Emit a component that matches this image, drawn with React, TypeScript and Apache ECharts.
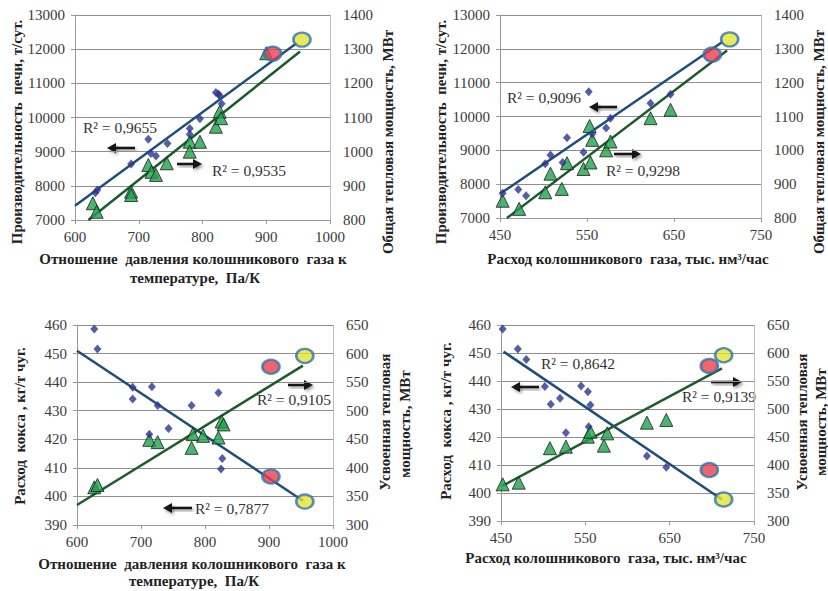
import React, { useEffect, useRef } from "react";
import * as echarts from "echarts";

// ---- Data ----
// Panel 1: x = отношение давления к температуре (Па/К)
const p1Prod = [[632, 7800], [635, 7880], [688, 8640], [715, 9360], [719, 8950], [727, 8870], [745, 9240], [780, 9680], [780, 9510], [796, 9960], [821, 10730], [825, 10690], [827, 10640], [830, 10400]];
const p1Heat = [[628, 849], [634, 824], [688, 883], [688, 873], [715, 961], [720, 941], [727, 932], [744, 966], [780, 1029], [780, 1000], [796, 1029], [821, 1073], [827, 1117], [829, 1098], [900, 1288]];
const p1Red = [[910, 11870]];
const p1Yellow = [[956, 12280]];
const p1TrendProd = [[600, 7420], [948, 12180]];
const p1TrendHeat = [[621, 800], [953, 1293]];

// Panel 2: x = расход колошникового газа
const p2Prod = [[453, 7730], [471, 7840], [480, 7660], [502, 8600], [508, 8860], [522, 8640], [527, 9370], [546, 8940], [552, 10730], [556, 9480], [572, 9660], [577, 9950], [623, 10390], [646, 10660]];
const p2Heat = [[453, 851], [472, 827], [502, 876], [508, 931], [521, 886], [527, 962], [546, 945], [553, 1072], [556, 1031], [554, 964], [572, 1000], [577, 1026], [623, 1095], [646, 1120]];
const p2Red = [[694, 11830]];
const p2Yellow = [[714, 12280]];
const p2TrendProd = [[451, 7730], [706, 12210]];
const p2TrendHeat = [[458, 800], [711, 1295]];

// Panel 3: x = отношение давления к температуре; left = расход кокса, right = усвоенная мощность
const p3Coke = [[627, 458.6], [632, 451.6], [687, 438.2], [687, 434.1], [717, 438.4], [726, 431.8], [743, 423.8], [713, 421.8], [779, 431.8], [821, 436.3], [827, 413.3], [825, 409.6]];
const p3Heat = [[627, 366], [632, 370], [713, 449], [726, 445], [781, 459], [779, 435], [797, 456], [821, 453], [826, 481], [829, 476]];
const p3RedCoke = [[903, 407]];
const p3RedHeat = [[903, 577]];
const p3YellowCoke = [[956, 398.2]];
const p3YellowHeat = [[956, 596]];
const p3TrendCoke = [[600, 451], [953, 398.5]];
const p3TrendHeat = [[600, 335], [953, 579]];

// Panel 4: x = расход колошникового газа
const p4Coke = [[452, 458.6], [470, 451.4], [480, 447.7], [502, 438], [509, 431.7], [520, 433.8], [527, 421.5], [545, 438.2], [553, 436.2], [556, 431.4], [554, 423.7], [623, 413.2], [646, 409.2]];
const p4Heat = [[452, 365.5], [471, 368.5], [508, 430], [527, 432.7], [553, 450.6], [556, 459.5], [572, 434.5], [576, 456.5], [623, 475.6], [646, 480.4]];
const p4RedCoke = [[697, 408.2]];
const p4RedHeat = [[697, 577]];
const p4YellowCoke = [[714, 397.7]];
const p4YellowHeat = [[714, 596]];
const p4TrendCoke = [[453, 450.5], [712, 397.7]];
const p4TrendHeat = [[452, 363], [712, 572.6]];

const xRanges = [[600, 1000, 100], [450, 750, 100], [600, 1000, 100], [450, 750, 100]];
const yLeftRanges = [[7000, 13000, 1000], [7000, 13000, 1000], [390, 460, 10], [390, 460, 10]];
const yRightRanges = [[800, 1400, 100], [800, 1400, 100], [300, 650, 50], [300, 650, 50]];

const r2Labels = ["R² = 0,9655", "R² = 0,9535", "R² = 0,9096", "R² = 0,9298", "R² = 0,9105", "R² = 0,7877", "R² = 0,8642", "R² = 0,9139"];

const FONT = "'Liberation Serif', 'Times New Roman', serif";
const BLUE_LINE = "#1f4e79";
const GREEN_LINE = "#1d5a2e";
const DIAMOND = "#2b3590";
const TRI = "#1ea24c";

export default function App() {
  const ref = useRef<HTMLDivElement>(null);
  useEffect(() => {
    const chart = echarts.init(ref.current!, null, { renderer: "svg" });
    const grids = [
      { left: 75, top: 15, width: 255, height: 205 },
      { left: 500, top: 15, width: 261, height: 203 },
      { left: 77, top: 325, width: 256, height: 200 },
      { left: 501, top: 325, width: 253, height: 196 },
    ];
    const label = { fontFamily: FONT, fontSize: 15, color: "#3a3a3a", formatter: (v: number) => String(v) };
    const xAxis = xRanges.map((r, i) => ({
      type: "value", gridIndex: i, min: r[0], max: r[1], interval: r[2],
      axisLine: { show: true, onZero: false, lineStyle: { color: "#9a9a9a", width: 1 } },
      axisTick: { show: true, length: 4, lineStyle: { color: "#9a9a9a" } },
      splitLine: { show: false },
      axisLabel: { ...label, margin: 9 },
    }));
    const yAxis: any[] = [];
    for (let i = 0; i < 4; i++) {
      const l = yLeftRanges[i], r = yRightRanges[i];
      yAxis.push({
        type: "value", gridIndex: i, position: "left", min: l[0], max: l[1], interval: l[2],
        axisLine: { show: true, lineStyle: { color: "#9a9a9a" } },
        axisTick: { show: true, length: 4, lineStyle: { color: "#9a9a9a" } },
        splitLine: { show: true, lineStyle: { color: "#8e8e8e", width: 1 } },
        axisLabel: { ...label, margin: 10 },
      });
      yAxis.push({
        type: "value", gridIndex: i, position: "right", min: r[0], max: r[1], interval: r[2],
        axisLine: { show: true, lineStyle: { color: "#bdbdbd" } },
        axisTick: { show: false },
        splitLine: { show: false },
        axisLabel: { ...label, margin: 13 },
      });
    }

    const trend = (data: number[][], i: number, right: boolean, color: string) => ({
      type: "line", xAxisIndex: i, yAxisIndex: 2 * i + (right ? 1 : 0), data,
      symbol: "none", lineStyle: { color, width: 2.5 }, z: 2, silent: true,
    });
    const tri = (data: number[][], i: number) => ({
      type: "scatter", xAxisIndex: i, yAxisIndex: 2 * i + 1, data, symbol: "triangle", symbolSize: [13, 13],
      itemStyle: { color: TRI, borderColor: "#1b1b1b", borderWidth: 1 }, z: 3,
    });
    const dia = (data: number[][], i: number) => ({
      type: "scatter", xAxisIndex: i, yAxisIndex: 2 * i, data, symbol: "diamond", symbolSize: [8, 9],
      itemStyle: { color: DIAMOND }, z: 4,
    });
    const circ = (data: number[][], i: number, right: boolean, color: string) => ({
      type: "scatter", xAxisIndex: i, yAxisIndex: 2 * i + (right ? 1 : 0), data, symbol: "circle", symbolSize: [17, 14],
      itemStyle: { color, borderColor: "#2e73b0", borderWidth: 2.5 }, z: 5,
    });
    const RED = "#ec3d48", YEL = "#e4e433";
    const series = [
      trend(p1TrendProd, 0, false, BLUE_LINE), trend(p1TrendHeat, 0, true, GREEN_LINE),
      tri(p1Heat, 0), dia(p1Prod, 0), circ(p1Red, 0, false, RED), circ(p1Yellow, 0, false, YEL),
      trend(p2TrendProd, 1, false, BLUE_LINE), trend(p2TrendHeat, 1, true, GREEN_LINE),
      tri(p2Heat, 1), dia(p2Prod, 1), circ(p2Red, 1, false, RED), circ(p2Yellow, 1, false, YEL),
      trend(p3TrendCoke, 2, false, BLUE_LINE), trend(p3TrendHeat, 2, true, GREEN_LINE),
      tri(p3Heat, 2), dia(p3Coke, 2), circ(p3RedCoke, 2, false, RED), circ(p3RedHeat, 2, true, RED),
      circ(p3YellowCoke, 2, false, YEL), circ(p3YellowHeat, 2, true, YEL),
      trend(p4TrendCoke, 3, false, BLUE_LINE), trend(p4TrendHeat, 3, true, GREEN_LINE),
      tri(p4Heat, 3), dia(p4Coke, 3), circ(p4RedCoke, 3, false, RED), circ(p4RedHeat, 3, true, RED),
      circ(p4YellowCoke, 3, false, YEL), circ(p4YellowHeat, 3, true, YEL),
    ];

    const title = (text: string, x: number, y: number, rot = false) => ({
      type: "text", x, y, rotation: rot ? Math.PI / 2 : 0,
      style: { text, fontFamily: FONT, fontSize: 15, fontWeight: "bold", fill: "#222", align: "center", verticalAlign: "middle" },
    });
    const r2 = (text: string, x: number, y: number) => ({
      type: "text", x, y,
      style: { text, fontFamily: FONT, fontSize: 15.5, fill: "#333", align: "left", verticalAlign: "middle" },
    });
    const arrow = (x1: number, x2: number, y: number) => {
      const dir = x2 > x1 ? 1 : -1;
      const shadow = { shadowBlur: 3, shadowColor: "rgba(0,0,0,0.4)", shadowOffsetX: 1.5, shadowOffsetY: 2 };
      const shaftEnd = x2 - dir * 7;
      const left = Math.min(x1, shaftEnd);
      return {
        type: "group",
        children: [
          { type: "rect", shape: { x: left, y: y - 1.3, width: Math.abs(shaftEnd - x1), height: 2.6 }, style: { fill: "#151515", ...shadow } },
          { type: "polygon", shape: { points: [[x2, y], [x2 - dir * 9, y - 5], [x2 - dir * 9, y + 5]] }, style: { fill: "#151515", ...shadow } },
        ],
      };
    };
    const graphic = [
      title("Производительность  печи, т/сут.", 17, 132, true),
      title("Общая тепловая мощность, МВт", 388, 142, true),
      title("Отношение  давления колошникового  газа к", 193, 259),
      title("температуре,  Па/К", 195, 278),
      title("Производительность  печи, т/сут.", 441, 132, true),
      title("Общая тепловая мощность, МВт", 819, 142, true),
      title("Расход колошникового  газа, тыс. нм³/час", 628, 259),
      title("Расход  кокса , кг/т чуг.", 20, 426, true),
      title("Усвоенная тепловая", 385, 422, true),
      title("мощность, МВт", 405, 424, true),
      title("Отношение  давления колошникового  газа к", 192, 564),
      title("температуре,  Па/К", 194, 581),
      title("Расход  кокса , кг/т чуг.", 446, 421, true),
      title("Усвоенная тепловая", 802, 422, true),
      title("мощность, МВт", 821, 422, true),
      title("Расход колошникового  газа, тыс. нм³/час", 606, 558),
      r2(r2Labels[0], 83, 127), r2(r2Labels[1], 212, 170),
      r2(r2Labels[2], 507, 97), r2(r2Labels[3], 606, 170),
      r2(r2Labels[4], 257, 399), r2(r2Labels[5], 195, 508),
      r2(r2Labels[6], 541, 363), r2(r2Labels[7], 682, 396),
      arrow(135, 107, 148), arrow(177, 202, 164),
      arrow(617, 589, 107), arrow(614, 641, 154),
      arrow(288, 313, 385), arrow(192, 163, 508),
      arrow(539, 511, 387), arrow(711, 742, 382),
    ];

    chart.setOption({
      animation: false,
      backgroundColor: "#ffffff",
      grid: grids,
      xAxis, yAxis, series, graphic,
    });
    return () => chart.dispose();
  }, []);
  return <div ref={ref} style={{ position: "absolute", left: 0, top: 0, width: 828, height: 591 }} />;
}
